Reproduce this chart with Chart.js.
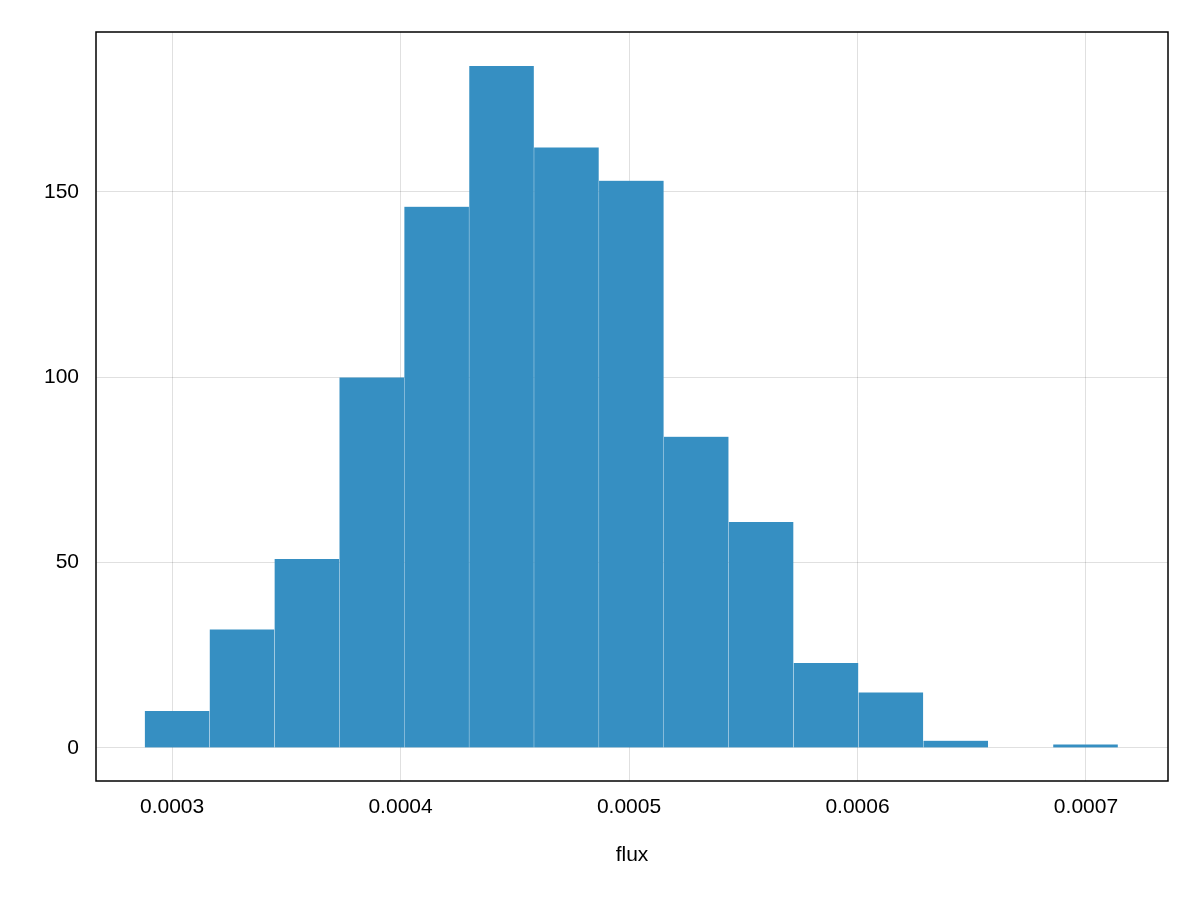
<!DOCTYPE html>
<html><head><meta charset="utf-8">
<script src="https://cdn.jsdelivr.net/npm/chart.js@4"></script>
<style>html,body{margin:0;padding:0;background:#fff}#w{width:1200px;height:900px}</style>
</head><body><div id="w"><canvas id="c"></canvas></div>
<script>
const binStart = 0.000288;
const binWidth = 0.0000284;
const counts = [10, 32, 51, 100, 146, 184, 162, 153, 84, 61, 23, 15, 2, 0, 1];
const xTicks = [0.0003, 0.0004, 0.0005, 0.0006, 0.0007];
const yTicks = [0, 50, 100, 150];
const xLabel = 'flux';

const data = counts.map((c, i) => ({x: binStart + binWidth * (i + 0.5), y: c}));
const frame = {id:'frame', afterDraw(ch){const a=ch.chartArea,x=ch.ctx;x.save();x.strokeStyle='#000';x.lineWidth=1.5;x.strokeRect(a.left,a.top,a.right-a.left,a.bottom-a.top);x.restore();}};
Chart.defaults.font.family = '"Liberation Sans", Arial, sans-serif';
Chart.defaults.color = '#000';
new Chart(document.getElementById('c'), {
  type: 'bar',
  data: {datasets: [{data, backgroundColor: 'rgb(54,143,194)', borderColor: 'rgba(255,255,255,0.04)', borderWidth: 0.5, barPercentage: 1, categoryPercentage: 1}]},
  options: {
    responsive: true, maintainAspectRatio: false, animation: false,
    layout: {padding: {left: 0, top: 32, right: 32, bottom: 28}},
    plugins: {legend: {display: false}, tooltip: {enabled: false}},
    scales: {
      x: {type: 'linear', min: 0.0002667, max: 0.0007359, offset: false,
        afterBuildTicks: s => { s.ticks = xTicks.map(v => ({value: v})); },
        afterFit: s => { s.height = 91; },
        ticks: {callback: v => v.toFixed(4), font: {size: 21}, padding: 14, maxRotation: 0},
        grid: {color: 'rgba(0,0,0,0.12)', drawTicks: false, offset: false},
        border: {display: false},
        title: {display: true, text: xLabel, font: {size: 21}, padding: {top: 4}}},
      y: {min: -8.9, max: 193.1,
        afterBuildTicks: s => { s.ticks = yTicks.map(v => ({value: v})); },
        afterFit: s => { s.width = 96; },
        ticks: {font: {size: 21}, padding: 17},
        grid: {color: 'rgba(0,0,0,0.12)', drawTicks: false},
        border: {display: false}}
    }
  },
  plugins: [frame]
});
</script></body></html>
